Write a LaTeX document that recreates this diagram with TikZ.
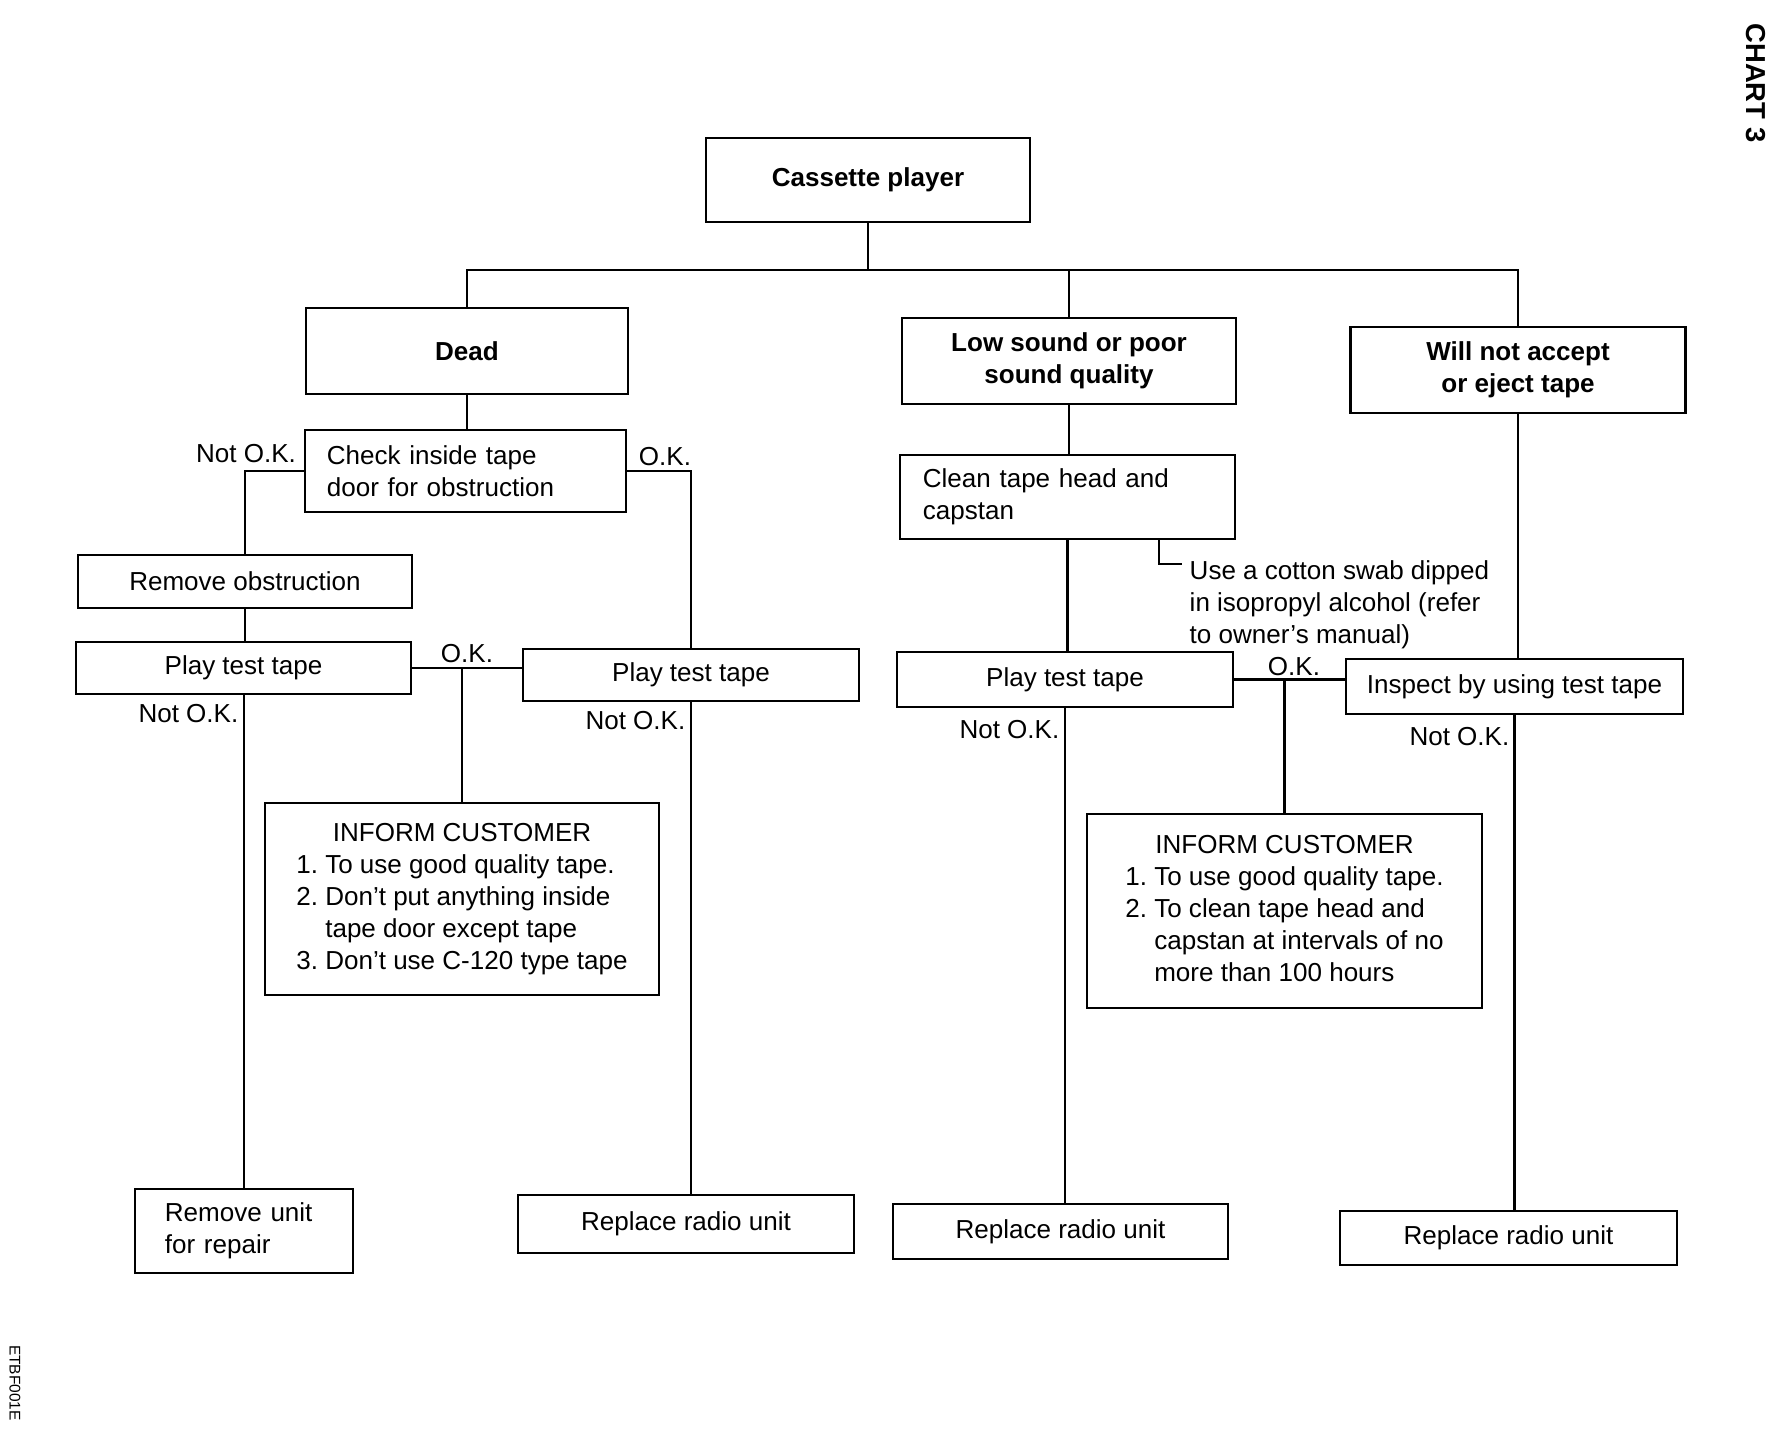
\documentclass[tikz,border=0pt]{standalone}
\usepackage{fontspec}
\setmainfont{Liberation Sans}
\usepackage{tikz}

\newcommand{\chartfont}{\fontsize{7.4pt}{9.1pt}\selectfont}
\newcommand{\chartbold}{\fontsize{7.4pt}{9.1pt}\selectfont\bfseries}

\tikzset{
  chartbox/.style={draw, line width=0.75pt, inner sep=0pt, align=center},
  leftbox/.style={chartbox, align=left, inner ysep=0pt},
  headbox/.style={chartbox, font=\chartbold},
  lbl/.style={inner sep=0pt},
  link/.style={line width=0.6pt}
}

\begin{document}
\begin{tikzpicture}[x=0.01cm, y=-0.01cm, font=\chartfont]
\useasboundingbox (0,0) rectangle (1788,1440);

% top row
\node[headbox, minimum width=3.24cm, minimum height=0.84cm] (cassette) at (868,180) {Cassette player};
\node[headbox, minimum width=3.22cm, minimum height=0.86cm] (dead) at (467,351) {Dead};
\node[headbox, minimum width=3.34cm, minimum height=0.86cm] (low) at (1069,361) {Low sound or poor\\sound quality};
\node[headbox, minimum width=3.35cm, minimum height=0.86cm] (will) at (1518,370) {Will not accept\\or eject tape};
\coordinate (bus) at (868,270);
\draw[link] (cassette.south) -- (bus);
\draw[link] (dead.north) |- (bus) -| (will.north);
\draw[link] (low.north) -- (low.north |- bus);

% dead
\node[leftbox, text width=2.77cm, inner xsep=0.22cm, minimum height=0.82cm] (check) at (465.5,471) {Check inside tape\\door for obstruction};
\node[chartbox, minimum width=3.34cm, minimum height=0.53cm] (remobs) at (245,581.5) {Remove obstruction};
\node[chartbox, minimum width=3.35cm, minimum height=0.52cm] (playA) at (243.5,668) {Play test tape};
\node[chartbox, minimum width=3.36cm, minimum height=0.52cm] (playB) at (691,675) {Play test tape};
\node[chartbox, minimum width=3.94cm, minimum height=1.92cm] (informA) at (462,899) {%
  \begin{tabular}{@{}l@{~}l@{}}
  \multicolumn{2}{c}{INFORM CUSTOMER}\\
  1. & To use good quality tape.\\
  2. & Don't put anything inside\\
     & tape door except tape\\
  3. & Don't use C-120 type tape
  \end{tabular}};
\node[leftbox, text width=1.58cm, inner xsep=0.30cm, minimum height=0.84cm] (remunit) at (244,1231) {Remove unit\\for repair};
\node[chartbox, minimum width=3.36cm, minimum height=0.58cm] (repA) at (686,1224) {Replace radio unit};

\draw[link] (dead.south) -- (dead.south |- check.north);
\draw[link] (check.west) -| (remobs.north);
\draw[link] (check.east) -| (playB.north);
\draw[link] (remobs.south) -- (remobs.south |- playA.north);
\draw[link] (playA.east) -- (playA.east -| playB.west);
\draw[link] (informA.north) -- (informA.north |- playA.east);
\draw[link] (playA.south -| remunit.north) -- (remunit.north);
\draw[link] (playB.south) -- (playB.south |- repA.north);

\node[lbl, anchor=south] (nokA) at (246,463) {Not O.K.};
\node[lbl, anchor=south] (okA) at (665,466) {O.K.};
\node[lbl, anchor=south] (okB) at (467,663) {O.K.};
\node[lbl, anchor=north east] (nokB) at (239,704) {Not O.K.};
\node[lbl, anchor=north east] (nokC) at (686,711) {Not O.K.};

% low sound / will not accept
\node[leftbox, text width=2.89cm, inner xsep=0.23cm, minimum height=0.84cm] (clean) at (1067.5,497) {Clean tape head and\\capstan};
\node[lbl, anchor=north west, align=left, inner xsep=0.07cm] (swabnote) at (1182,560) {Use a cotton swab dipped\\in isopropyl alcohol (refer\\to owner's manual)};
\coordinate (swab) at (1159,564);
\node[chartbox, minimum width=3.36cm, minimum height=0.55cm] (playC) at (1065,679.5) {Play test tape};
\node[chartbox, minimum width=3.37cm, minimum height=0.55cm] (inspect) at (1514.5,686.5) {Inspect by using test tape};
\node[chartbox, minimum width=3.95cm, minimum height=1.94cm] (informB) at (1284.5,911) {%
  \begin{tabular}{@{}l@{~}l@{}}
  \multicolumn{2}{c}{INFORM CUSTOMER}\\
  1. & To use good quality tape.\\
  2. & To clean tape head and\\
     & capstan at intervals of no\\
     & more than 100 hours
  \end{tabular}};
\node[chartbox, minimum width=3.35cm, minimum height=0.55cm] (repB) at (1060.5,1231.5) {Replace radio unit};
\node[chartbox, minimum width=3.37cm, minimum height=0.54cm] (repC) at (1508.5,1238) {Replace radio unit};

\draw[link] (low.south) -- (low.south |- clean.north);
\draw[link] (clean.south -| swab) -- (swab) -- (swab -| swabnote.west);
\draw[link] (clean.south) -- (clean.south |- playC.north);
\draw[link] (playC.east) -- (playC.east -| inspect.west);
\draw[link] (informB.north) -- (informB.north |- playC.east);
\draw[link] (playC.south) -- (playC.south |- repB.north);
\draw[link] (will.south) -- (will.south |- inspect.north);
\draw[link] (inspect.south) -- (inspect.south |- repC.north);

\node[lbl, anchor=south] (okC) at (1294,676) {O.K.};
\node[lbl, anchor=north east] (nokD) at (1060,720) {Not O.K.};
\node[lbl, anchor=north east] (nokE) at (1510,727) {Not O.K.};

% margin marks
\node[lbl, rotate=-90, font=\fontsize{7.8pt}{9pt}\selectfont\bfseries] (chart) at (1756,83) {CHART 3};
\node[lbl, rotate=-90, font=\fontsize{4.4pt}{5pt}\selectfont] (code) at (15,1383) {ETBF001E};
\end{tikzpicture}
\end{document}
